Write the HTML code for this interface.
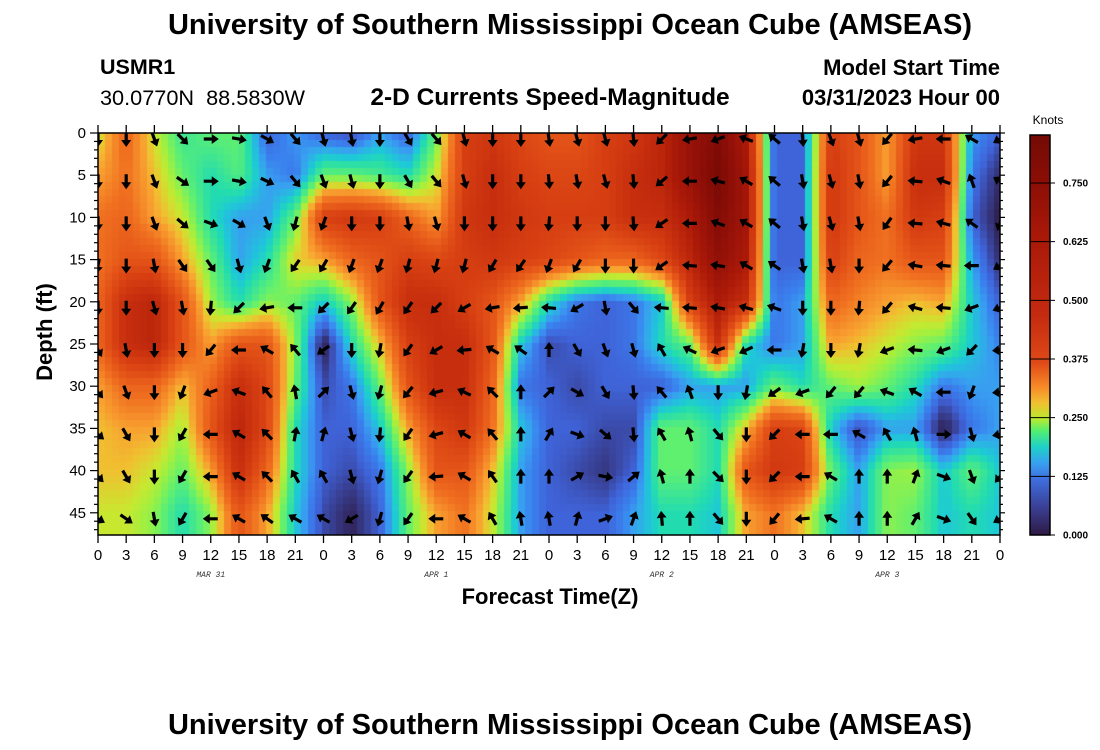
<!DOCTYPE html>
<html><head><meta charset="utf-8"><style>
body{margin:0;background:#fff;width:1100px;height:750px;overflow:hidden;font-family:"Liberation Sans",Arial,sans-serif;position:relative}
.t{position:absolute;white-space:nowrap;color:#000}
</style></head><body>
<div class="t" style="left:20px;width:1100px;text-align:center;top:9px;font-size:29px;font-weight:bold">University of Southern Mississippi Ocean Cube (AMSEAS)</div>
<div class="t" style="left:100px;top:55px;font-size:21.5px;font-weight:bold">USMR1</div>
<div class="t" style="left:100px;top:85px;font-size:21.7px">30.0770N&nbsp;&nbsp;88.5830W</div>
<div class="t" style="left:300px;width:500px;text-align:center;top:84px;font-size:24.5px;font-weight:bold">2-D Currents Speed-Magnitude</div>
<div class="t" style="right:100px;top:55px;font-size:22px;font-weight:bold">Model Start Time</div>
<div class="t" style="right:100px;top:85px;font-size:22px;font-weight:bold">03/31/2023 Hour 00</div>
<div class="t" style="left:20px;width:1100px;text-align:center;top:709px;font-size:29px;font-weight:bold">University of Southern Mississippi Ocean Cube (AMSEAS)</div>
<canvas id="hm" width="902" height="402" style="position:absolute;left:98px;top:133px"></canvas>
<svg id="sv" width="1100" height="750" style="position:absolute;left:0;top:0"></svg>
<script>
const times=[0,3,6,9,12,15,18,21,24,27,30,33,36,39,42,45,48,51,54,57,60,63,66,69,72,75,78,81,84,87,90,93,96];
const tickLabels=["0","3","6","9","12","15","18","21","0","3","6","9","12","15","18","21","0","3","6","9","12","15","18","21","0","3","6","9","12","15","18","21","0"];
const depths=[0,5,10,15,20,25,30,35,40,45];
const dayLabels=["MAR 31","APR 1","APR 2","APR 3"];
const dayLabelTimes=[12,36,60,84];
const cbTicks=[0,0.125,0.25,0.375,0.5,0.625,0.75];
// speed (knots) per time column, rows = depths
const speed=[
[.3,.35,.4,.4,.42,.42,.35,.33,.33,.3],
[.42,.4,.42,.45,.55,.55,.42,.35,.33,.3],
[.3,.33,.35,.45,.58,.58,.42,.35,.3,.27],
[.22,.25,.3,.35,.45,.45,.33,.28,.25,.2],
[.25,.2,.2,.25,.28,.35,.42,.45,.35,.27],
[.25,.24,.15,.15,.2,.45,.55,.58,.55,.45],
[.1,.15,.15,.2,.27,.45,.48,.48,.42,.35],
[.15,.12,.25,.32,.25,.27,.25,.2,.2,.18],
[.1,.25,.5,.35,.18,.03,.08,.1,.1,.08],
[.08,.25,.52,.42,.27,.2,.12,.1,.08,.04],
[.15,.23,.5,.45,.45,.33,.25,.18,.12,.1],
[.1,.2,.42,.5,.55,.5,.45,.35,.27,.25],
[.25,.3,.35,.48,.55,.55,.55,.48,.45,.35],
[.5,.5,.52,.5,.5,.55,.55,.52,.45,.4],
[.52,.55,.55,.52,.45,.45,.42,.4,.33,.3],
[.48,.5,.52,.5,.35,.18,.12,.18,.15,.15],
[.45,.48,.5,.48,.2,.08,.1,.1,.1,.1],
[.45,.48,.5,.45,.12,.1,.08,.1,.08,.1],
[.5,.5,.5,.42,.1,.1,.1,.08,.06,.1],
[.52,.55,.55,.42,.12,.12,.1,.08,.1,.15],
[.58,.58,.55,.48,.18,.2,.1,.25,.25,.2],
[.68,.68,.62,.58,.5,.25,.15,.25,.25,.2],
[.75,.78,.75,.7,.62,.55,.15,.2,.2,.18],
[.62,.65,.65,.62,.55,.2,.15,.33,.45,.35],
[.1,.1,.1,.1,.12,.12,.25,.5,.52,.4],
[.1,.1,.1,.1,.15,.15,.2,.48,.5,.33],
[.5,.52,.52,.5,.42,.35,.25,.18,.25,.2],
[.45,.45,.45,.42,.38,.33,.28,.08,.15,.15],
[.35,.35,.4,.4,.35,.3,.25,.15,.27,.27],
[.52,.55,.52,.45,.33,.27,.2,.15,.28,.25],
[.52,.55,.5,.45,.35,.25,.12,.03,.18,.18],
[.15,.12,.1,.15,.18,.18,.15,.12,.25,.2],
[.1,.05,.03,.05,.1,.13,.15,.15,.18,.18]];
// direction (degrees clockwise from up) per time column, rows = depths
const direction=[
[180,180,180,190,180,150,140,130,135,120],
[180,180,180,180,180,170,160,150,150,125],
[160,160,160,170,165,180,180,180,180,170],
[135,125,130,145,170,180,200,210,210,210],
[90,90,110,145,185,220,250,270,270,270],
[100,100,120,165,225,270,290,300,300,300],
[120,115,160,200,260,300,320,315,315,305],
[140,140,195,215,270,320,350,10,330,300],
[165,160,200,210,225,235,45,15,330,300],
[170,165,180,200,215,180,165,165,165,240],
[180,180,180,200,210,190,195,185,195,195],
[150,150,170,195,215,215,220,215,215,215],
[140,140,165,195,225,240,255,255,265,270],
[165,165,180,195,240,265,295,300,300,300],
[180,180,180,210,260,300,315,320,325,330],
[180,180,180,215,265,305,0,0,0,350],
[172,175,185,200,275,0,45,30,0,350],
[165,170,180,210,240,150,120,110,60,15],
[165,165,180,180,170,160,150,130,100,70],
[175,175,175,180,140,165,175,175,50,20],
[225,230,235,235,275,330,320,330,345,355],
[260,270,270,275,275,295,340,345,0,0],
[250,285,290,280,280,250,180,140,135,140],
[290,300,300,300,285,245,190,180,180,180],
[310,310,310,305,290,270,235,225,225,220],
[175,170,170,170,180,190,250,270,270,265],
[160,165,165,170,180,180,220,270,300,300],
[165,170,170,180,185,190,220,300,0,0],
[220,220,215,220,220,250,290,330,0,0],
[260,275,275,280,285,275,300,345,20,30],
[270,290,285,275,275,250,270,90,110,110],
[300,340,305,270,250,225,200,165,160,145],
[240,300,200,240,250,265,265,260,220,240]];

const PX=98,PY=133,PW=902,PH=402,TMAX=96;
const xs=t=>PX+t/TMAX*PW;
const ys=d=>PY+d*8.44;
const stops=[[0,[46,26,69]],[.03,[46,26,69]],[.08,[59,74,168]],[.1,[63,99,216]],[.13,[58,128,238]],[.15,[56,160,240]],[.18,[30,200,216]],[.2,[34,220,176]],[.25,[96,240,112]],[.28,[160,240,64]],[.3,[200,232,48]],[.33,[240,192,48]],[.35,[248,160,48]],[.4,[240,112,32]],[.45,[228,84,24]],[.5,[214,62,18]],[.55,[198,46,14]],[.62,[172,26,8]],[.7,[146,16,8]],[.78,[122,10,5]],[1,[110,8,5]]];
function cmap(v){for(let i=1;i<stops.length;i++){if(v<=stops[i][0]){const a=stops[i-1],b=stops[i],f=(v-a[0])/(b[0]-a[0]||1);return 'rgb('+a[1].map((c,k)=>Math.round(c+(b[1][k]-c)*f)).join(',')+')';}}return 'rgb(110,8,5)';}
function sample(t,d){const fi=Math.min(Math.max(t/3,0),times.length-1),fj=Math.min(Math.max(d/5,0),depths.length-1);
const i0=Math.min(Math.floor(fi),times.length-2),j0=Math.min(Math.floor(fj),depths.length-2),fx=fi-i0,fy=fj-j0;
const a=speed[i0][j0],b=speed[i0+1][j0],c=speed[i0][j0+1],e=speed[i0+1][j0+1];
return a*(1-fx)*(1-fy)+b*fx*(1-fy)+c*(1-fx)*fy+e*fx*fy;}
const ctx=document.getElementById('hm').getContext('2d');
const cs=7;
for(let x=0;x<PW;x+=cs)for(let y=0;y<PH;y+=cs){const t=(x+cs/2)/PW*TMAX,d=(y+cs/2)/8.44;ctx.fillStyle=cmap(sample(t,d));ctx.fillRect(x,y,cs,cs);}
const NS='http://www.w3.org/2000/svg',sv=document.getElementById('sv');
function el(tag,attrs,parent){const e=document.createElementNS(NS,tag);for(const k in attrs)e.setAttribute(k,attrs[k]);(parent||sv).appendChild(e);return e;}
const defs=el('defs',{});
const cp=el('clipPath',{id:'pc'},defs);el('rect',{x:PX,y:PY,width:PW,height:PH},cp);
const ag=el('g',{'clip-path':'url(#pc)'});


for(let i=0;i<times.length;i++)for(let j=0;j<depths.length;j++){
const cx=xs(times[i]),cy=ys(depths[j])+6;
const p=el('path',{d:'M-1.6,7 L1.6,7 L1.6,-1 L5,-1 L0,-8 L-5,-1 L-1.6,-1 Z',fill:'#000',transform:`translate(${cx},${cy}) rotate(${direction[i][j]})`},ag);


}
const fr=el('rect',{x:PX,y:PY,width:PW,height:PH,fill:'none',stroke:'#000','stroke-width':1.5});


for(let i=0;i<times.length;i++){const x=xs(times[i]);
el('line',{x1:x,x2:x,y1:PY,y2:PY-8,stroke:'#000','stroke-width':1.3});
el('line',{x1:x,x2:x,y1:PY+PH,y2:PY+PH+8,stroke:'#000','stroke-width':1.3});
const tx=el('text',{x:x,y:560,'text-anchor':'middle','font-size':15,'font-family':'Liberation Sans, sans-serif'});tx.textContent=tickLabels[i];

}
for(let k=0;k<dayLabels.length;k++){const tx=el('text',{x:xs(dayLabelTimes[k]),y:577,'text-anchor':'middle','font-size':8,'font-style':'italic','font-family':'Liberation Mono, monospace',fill:'#333'});tx.textContent=dayLabels[k];

}
for(let d=0;d<=47;d++){const y=ys(d),L=d%5==0?8:4;
el('line',{x1:PX,x2:PX-L,y1:y,y2:y,stroke:'#000','stroke-width':1.2});
el('line',{x1:PX+PW,x2:PX+PW+L/2+1,y1:y,y2:y,stroke:'#000','stroke-width':1.2});
if(d%5==0){const tx=el('text',{x:86,y:y+5,'text-anchor':'end','font-size':15,'font-family':'Liberation Sans, sans-serif'});tx.textContent=d;

}}
const xt=el('text',{x:550,y:604,'text-anchor':'middle','font-size':22,'font-weight':'bold','font-family':'Liberation Sans, sans-serif'});xt.textContent='Forecast Time(Z)';


const yt=el('text',{x:0,y:0,'text-anchor':'middle','font-size':22,'font-weight':'bold','font-family':'Liberation Sans, sans-serif',transform:'translate(52,332) rotate(-90)'});yt.textContent='Depth (ft)';


const lg=el('linearGradient',{id:'cb',x1:0,y1:1,x2:0,y2:0},defs);
const cbStops=[[0,'#2e1a45'],[.07,'#3b3f95'],[.14,'#3f6fe0'],[.18,'#38a0f0'],[.22,'#1ed0c8'],[.26,'#50f070'],[.29,'#b8ea30'],[.33,'#f0c030'],[.37,'#f88a28'],[.43,'#e04a18'],[.55,'#c42a10'],[.75,'#a81808'],[.88,'#8c0e06'],[1,'#740a05']];
cbStops.forEach(s=>el('stop',{offset:s[0],'stop-color':s[1]},lg));
const CBT=135,CBB=535,CBMAX=(CBB-CBT)/((CBB-183)/0.75);
const cb=el('rect',{x:1030,y:CBT,width:20,height:CBB-CBT,fill:'url(#cb)',stroke:'#000','stroke-width':1.5});


cbTicks.forEach(v=>{const y=CBB-v/CBMAX*(CBB-CBT);
el('line',{x1:1030,x2:1055,y1:y,y2:y,stroke:'#000','stroke-width':1});
const tx=el('text',{x:1063,y:y+3.5,'font-size':10,'font-weight':'bold','font-family':'Liberation Sans, sans-serif'});tx.textContent=v.toFixed(3);

});
const kn=el('text',{x:1048,y:124,'text-anchor':'middle','font-size':12,'font-family':'Liberation Sans, sans-serif'});kn.textContent='Knots';


</script>
</body></html>
